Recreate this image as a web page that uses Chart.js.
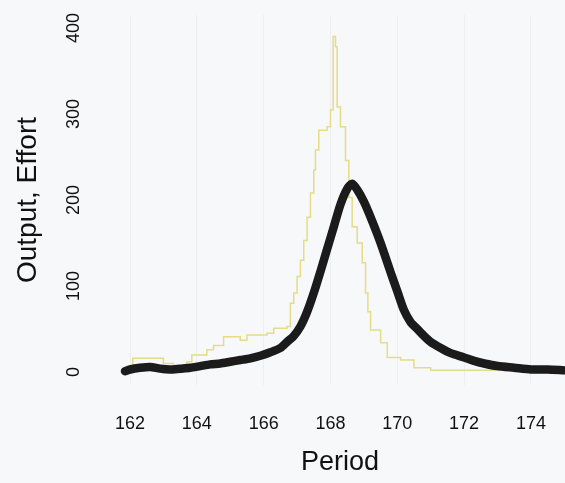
<!DOCTYPE html>
<html>
<head>
<meta charset="utf-8">
<script src="https://cdn.jsdelivr.net/npm/chart.js@4"></script>
<style>
  html, body { margin: 0; padding: 0; background: #f7f8fa; }
  #wrap { width: 565px; height: 483px; }
</style>
</head>
<body>
<div id="wrap"><canvas id="periodChart" width="565" height="483"></canvas></div>
<script>
// thin stepped series (held from each period until the next one)
const outputPeriod = [162.05, 162.08, 163.0, 163.3, 163.7, 163.85, 164.3, 164.5, 164.8, 165.3, 165.5,
  166.1, 166.3, 166.7, 166.8, 166.9, 167.0, 167.1, 167.2, 167.3, 167.4, 167.5, 167.55, 167.65,
  167.9, 168.0, 168.08, 168.15, 168.2, 168.3, 168.45, 168.55, 168.65, 168.8, 168.95, 169.05,
  169.12, 169.2, 169.5, 169.7, 170.1, 170.5, 171.0, 175.0];
const outputValues = [6, 16, 10, 6, 12, 20, 26, 31, 41, 37, 43,
  45, 51, 53, 80, 92, 111, 130, 153, 180, 208, 235, 258, 281,
  285, 305, 390, 378, 308, 285, 246, 203, 169, 150, 127, 92,
  70, 49, 34, 17, 14, 5, 2, 2];

// thick smoothed series
const effortPeriod = [161.85, 162.0, 162.3, 162.6, 162.9, 163.2, 163.5, 163.8, 164.1, 164.4, 164.7,
  165.0, 165.3, 165.6, 165.9, 166.2, 166.5, 166.7, 166.9, 167.1, 167.3, 167.5, 167.7, 167.9,
  168.1, 168.3, 168.5, 168.65, 168.8, 169.0, 169.2, 169.5, 169.8, 170.0, 170.2, 170.4, 170.6,
  170.8, 171.0, 171.3, 171.6, 172.0, 172.3, 172.6, 173.0, 173.5, 174.0, 174.5, 175.0];
const effortValues = [1, 3, 5, 6, 4, 3, 4, 5, 7, 9, 10,
  12, 14, 16, 19, 23, 28, 35, 42, 53, 70, 92, 117, 143,
  169, 195, 213, 219, 212, 198, 180, 150, 116, 94, 72, 58, 50,
  42, 35, 28, 22, 17, 13, 10, 7, 5, 3, 3, 2];

const xTicks = [162, 164, 166, 168, 170, 172, 174];
const yTicks = [0, 100, 200, 300, 400];

const FONT = '"Liberation Sans", Arial, Helvetica, sans-serif';

function toPoints(xs, ys) {
  return xs.map((x, i) => ({ x: x, y: ys[i] }));
}

// R-style rotated labels on the value axis
const rotatedYLabels = {
  id: 'rotatedYLabels',
  afterDraw(chart) {
    const ctx = chart.ctx;
    const y = chart.scales.y;
    ctx.save();
    ctx.fillStyle = '#111';
    ctx.font = '18px ' + FONT;
    ctx.textAlign = 'center';
    ctx.textBaseline = 'middle';
    yTicks.forEach(v => {
      ctx.save();
      ctx.translate(74, y.getPixelForValue(v));
      ctx.rotate(-Math.PI / 2);
      ctx.fillText(String(v), 0, 0);
      ctx.restore();
    });
    ctx.restore();
  }
};

const paper = {
  id: 'paper',
  beforeDraw(chart) {
    const ctx = chart.ctx;
    ctx.save();
    ctx.fillStyle = '#f7f8fa';
    ctx.fillRect(0, 0, chart.width, chart.height);
    ctx.restore();
  }
};

new Chart(document.getElementById('periodChart'), {
  type: 'line',
  data: {
    datasets: [{
      label: 'Effort',
      data: toPoints(effortPeriod, effortValues),
      borderColor: '#1b1b1b',
      borderWidth: 8.5,
      borderCapStyle: 'round',
      borderJoinStyle: 'round',
      pointRadius: 0,
      tension: 0.25
    }, {
      label: 'Output',
      data: toPoints(outputPeriod, outputValues),
      borderColor: '#e4dc86',
      borderWidth: 1.5,
      pointRadius: 0,
      stepped: 'before'
    }]
  },
  options: {
    responsive: false,
    animation: false,
    layout: { padding: { top: 15, right: 0, bottom: 0, left: 0 } },
    plugins: {
      legend: { display: false },
      tooltip: { enabled: false }
    },
    scales: {
      x: {
        type: 'linear',
        min: 161.55,
        max: 175.02,
        border: { display: false },
        grid: { color: '#eceef1', lineWidth: 1, drawTicks: false },
        afterBuildTicks: scale => { scale.ticks = xTicks.map(v => ({ value: v })); },
        afterFit: scale => {
          scale.height = 98;
          scale.paddingLeft = 0;
          scale.paddingRight = 0;
        },
        ticks: {
          padding: 28,
          color: '#111',
          font: { family: FONT, size: 18 },
          maxRotation: 0
        },
        title: {
          display: true,
          text: 'Period',
          color: '#111',
          font: { family: FONT, size: 27 },
          padding: { top: 0, bottom: 4 }
        }
      },
      y: {
        min: -15,
        max: 415,
        border: { display: false },
        grid: { display: false },
        afterBuildTicks: scale => { scale.ticks = yTicks.map(v => ({ value: v })); },
        afterFit: scale => { scale.width = 115; },
        ticks: { display: false },
        title: {
          display: true,
          text: 'Output, Effort',
          color: '#111',
          font: { family: FONT, size: 28 },
          padding: { top: 11, bottom: 0 }
        }
      }
    }
  },
  plugins: [paper, rotatedYLabels]
});
</script>
</body>
</html>
